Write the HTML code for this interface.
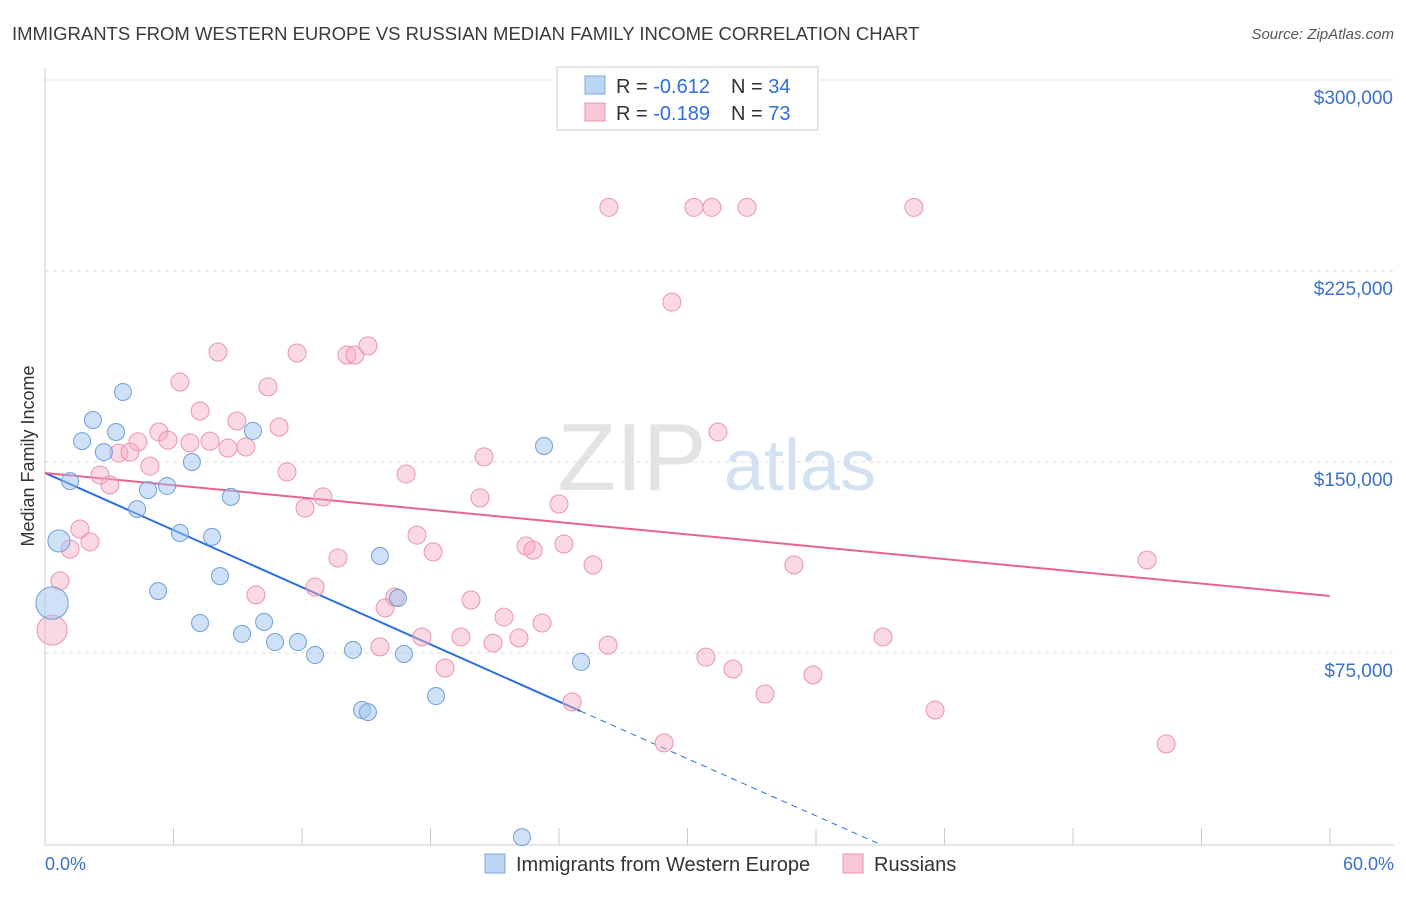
<!DOCTYPE html>
<html><head><meta charset="utf-8"><style>
body{margin:0;background:#fff;font-family:"Liberation Sans",sans-serif;}
svg text{font-family:"Liberation Sans",sans-serif;}
</style></head><body>
<svg id="chart" width="1406" height="892" xmlns="http://www.w3.org/2000/svg">
<text x="12" y="40" font-size="18.5" fill="#3a3a3a">IMMIGRANTS FROM WESTERN EUROPE VS RUSSIAN MEDIAN FAMILY INCOME CORRELATION CHART</text>
<text x="1394" y="39" font-size="15" fill="#555" text-anchor="end" font-style="italic">Source: ZipAtlas.com</text>
<text transform="translate(34,456) rotate(-90)" font-size="18" fill="#333" text-anchor="middle">Median Family Income</text>
<g>
<text x="632" y="490" font-size="96" fill="#e3e3e3" text-anchor="middle" font-family="Liberation Serif">ZIP</text>
<text x="800" y="490" font-size="72" fill="#d3e2f3" text-anchor="middle">atlas</text></g>
<g id="grid"></g><g id="axes"></g><g id="lines"></g><g id="pts"></g>
<g>
<rect x="557" y="67" width="261" height="63" fill="#fff" stroke="#ccc"/>
<rect x="585" y="76" width="20" height="18" fill="#bcd5f5" stroke="#7aa8e0"/>
<text x="616" y="93" font-size="20" fill="#333">R = <tspan fill="#2a6fdb">-0.612</tspan></text>
<text x="731" y="93" font-size="20" fill="#333">N = <tspan fill="#2a6fdb">34</tspan></text>
<rect x="585" y="103" width="20" height="18" fill="#f9c6d6" stroke="#eb94b0"/>
<text x="616" y="120" font-size="20" fill="#333">R = <tspan fill="#2a6fdb">-0.189</tspan></text>
<text x="731" y="120" font-size="20" fill="#333">N = <tspan fill="#2a6fdb">73</tspan></text>
</g>
<g>
<rect x="485" y="854" width="20" height="19" fill="#bcd5f5" stroke="#7aa8e0"/>
<text x="516" y="871" font-size="20" fill="#333">Immigrants from Western Europe</text>
<rect x="843" y="854" width="20" height="19" fill="#f9c6d6" stroke="#eb94b0"/>
<text x="874" y="871" font-size="20" fill="#333">Russians</text>
</g>
<text x="45" y="870" font-size="18" fill="#3a72c8">0.0%</text>
<text x="1394" y="870" font-size="18" fill="#3a72c8" text-anchor="end">60.0%</text>
</svg>
<script>
const yTicks=[75000,150000,225000,300000];
const yTickLabels=["$75,000","$150,000","$225,000","$300,000"];
const blueX=[2.24,1.73,3.32,2.75,3.64,1.17,4.81,5.70,6.86,4.30,8.68,9.71,6.30,7.80,0.65,8.17,5.28,7.24,9.20,10.23,10.74,11.81,12.61,14.38,15.64,16.48,16.76,14.80,15.08,18.26,23.30,25.03,22.27,0.33];
const blueY=[166.5,158.2,161.8,153.9,177.5,142.5,139.0,140.6,150.0,131.5,136.3,162.2,122.1,120.6,119.0,105.2,99.3,86.8,82.5,87.2,79.3,79.3,74.2,76.2,113.1,96.6,74.6,52.6,51.8,58.1,156.3,71.5,2.7,94.6];
const blueSize=[1,1,1,1,1,1,1,1,1,1,1,1,1,1,1.3,1,1,1,1,1,1,1,1,1,1,1,1,1,1,1,1,1,1,1.9];
const pinkX=[26.33,30.30,31.14,32.78,40.57,29.27,8.08,11.77,14.10,14.47,15.08,6.30,10.41,7.24,8.96,10.93,5.32,5.74,6.77,7.70,8.54,9.38,4.34,3.45,3.97,4.90,2.57,3.03,11.30,16.86,20.50,31.42,12.98,12.14,20.31,24.00,1.63,2.10,1.17,13.68,17.37,18.12,22.46,22.79,24.23,25.59,34.97,51.46,0.70,9.85,12.61,15.88,16.34,19.89,21.43,23.21,17.60,19.42,20.92,22.13,15.64,26.29,18.68,30.86,32.12,35.86,33.62,39.13,24.61,41.56,28.91,52.35,0.33];
const pinkY=[250,250,250,250,250,212.8,193.2,192.8,192.0,192.0,195.6,181.4,179.5,170.0,166.1,163.7,161.8,158.6,157.5,158.2,155.5,155.9,157.9,153.5,153.9,148.4,144.9,141.0,146.1,145.3,152.0,161.8,136.3,131.9,135.9,133.5,123.7,118.6,115.8,112.3,121.3,114.7,117.0,115.4,117.8,109.6,109.6,111.5,103.3,97.8,100.9,92.7,97.0,95.8,89.1,86.8,81.3,81.3,78.9,80.9,77.4,78.1,69.1,73.4,68.7,66.4,58.9,81.3,55.8,52.6,39.7,39.3,84.0];
const blueTrend=[145.7,-3.74,25.0,39.0];
const pinkTrend=[145.7,97.4];
const NS="http://www.w3.org/2000/svg";
const xs=p=>45+p*1285/60;
const ys=k=>653-(k*1000-75000)*191/75000;
function mk(tag,attrs,parent){const e=document.createElementNS(NS,tag);for(const k in attrs)e.setAttribute(k,attrs[k]);document.getElementById(parent).appendChild(e);return e;}
yTicks.forEach((t,i)=>{
 const g=mk('line',{x1:45,x2:1394,y1:ys(t/1000),y2:ys(t/1000),stroke:'#ddd','stroke-dasharray':'4,4'},'grid');
 
 
 const tx=mk('text',{x:1393,y:ys(t/1000)+24,'font-size':19,fill:'#3a72c8','text-anchor':'end'},'grid');
 tx.textContent=yTickLabels[i];
 
 
});
const ax=mk('line',{x1:45,x2:1394,y1:845,y2:845,stroke:'#ccc'},'axes');


const ay=mk('line',{x1:45,x2:45,y1:68,y2:845,stroke:'#ccc'},'axes');


for(let i=0;i<=10;i++){
 const t=mk('line',{x1:xs(i*6),x2:xs(i*6),y1:828,y2:845,stroke:'#ccc'},'axes');
 
 
}
const bl=mk('line',{x1:xs(0),y1:ys(blueTrend[0]),x2:xs(blueTrend[2]),y2:ys(blueTrend[0]+blueTrend[1]*blueTrend[2]),stroke:'#2a6fdb','stroke-width':2},'lines');


const bd=mk('line',{x1:xs(blueTrend[2]),y1:ys(blueTrend[0]+blueTrend[1]*blueTrend[2]),x2:xs(blueTrend[3]),y2:ys(blueTrend[0]+blueTrend[1]*blueTrend[3]),stroke:'#2a6fdb','stroke-width':1,'stroke-dasharray':'6,5'},'lines');


const pl=mk('line',{x1:xs(0),y1:ys(pinkTrend[0]),x2:xs(60),y2:ys(pinkTrend[1]),stroke:'#e8638f','stroke-width':2},'lines');


pinkX.forEach((x,i)=>{
 const r=i===pinkX.length-1?15:9;
 const c=mk('circle',{cx:xs(x),cy:ys(pinkY[i]),r:r,fill:'rgba(246,170,195,0.45)',stroke:'#eb94b0','stroke-width':1},'pts');
 
 
});
blueX.forEach((x,i)=>{
 const c=mk('circle',{cx:xs(x),cy:ys(blueY[i]),r:8.5*blueSize[i],fill:'rgba(160,195,240,0.5)',stroke:'#6f9fdc','stroke-width':1},'pts');
 
 
});
</script>
</body></html>
